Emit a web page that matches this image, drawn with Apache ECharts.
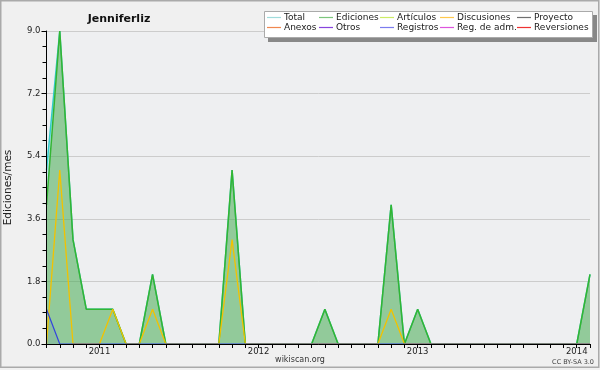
<!DOCTYPE html>
<html>
<head>
<meta charset="utf-8">
<script src="https://cdn.jsdelivr.net/npm/echarts@6/dist/echarts.min.js"></script>
<style>html,body{margin:0;padding:0;background:#f0f0f0;}#c{width:600px;height:370px;}</style>
</head>
<body>
<div id="c"></div>
<script>
var months = ['2010-09','2010-10','2010-11','2010-12','2011-01','2011-02','2011-03','2011-04','2011-05','2011-06','2011-07','2011-08','2011-09','2011-10','2011-11','2011-12','2012-01','2012-02','2012-03','2012-04','2012-05','2012-06','2012-07','2012-08','2012-09','2012-10','2012-11','2012-12','2013-01','2013-02','2013-03','2013-04','2013-05','2013-06','2013-07','2013-08','2013-09','2013-10','2013-11','2013-12','2014-01','2014-02'];
var total      = [5,9,3,1,1,1,0,0,2,0,0,0,0,0,5,0,0,0,0,0,0,1,0,0,0,0,4,0,1,0,0,0,0,0,0,0,0,0,0,0,0,2];
var ediciones  = [4,9,3,1,1,1,0,0,2,0,0,0,0,0,5,0,0,0,0,0,0,1,0,0,0,0,4,0,1,0,0,0,0,0,0,0,0,0,0,0,0,2];
var discusiones= [0,5,0,0,0,1,0,0,1,0,0,0,0,0,3,0,0,0,0,0,0,0,0,0,0,0,1,0,0,0,0,0,0,0,0,0,0,0,0,0,0,0];
var registros  = [1,0,0,0,0,0,0,0,0,0,0,0,0,0,0,0,0,0,0,0,0,0,0,0,0,0,0,0,0,0,0,0,0,0,0,0,0,0,0,0,0,0];
var articulos = [], proyecto = [], anexos = [], otros = [], regAdm = [], reversiones = [];
var yTicks = ['0.0','1.8','3.6','5.4','7.2','9.0'];

var legendCols = [
  {x:267, items:[['Total','#a0dcdc'],['Anexos','#f08850']]},
  {x:319, items:[['Ediciones','#7cc67c'],['Otros','#8844dd']]},
  {x:380, items:[['Artículos','#ccec66'],['Registros','#7c7cee']]},
  {x:440, items:[['Discusiones','#ffc94d'],['Reg. de adm.','#dd55dd']]},
  {x:517, items:[['Proyecto','#707070'],['Reversiones','#ee3333']]}
];
var FONT = 'DejaVu Sans';
var legends = legendCols.map(function(col){
  return {
    left: col.x, top: 13, orient: 'vertical', padding: 0, itemGap: 1,
    itemWidth: 14, itemHeight: 10, selectedMode: false, z: 20,
    icon: 'path://M0,0H15V1.3H0Z',
    textStyle: {fontFamily: FONT, fontSize: 9, color: '#1a1a1a', padding:[0,0,0,-2]},
    data: col.items.map(function(it){ return {name: it[0], itemStyle:{color: it[1]}, lineStyle:{color: it[1]}}; })
  };
});

function lineSeries(name, data, color, width, area, z){
  var s = {name: name, type: 'line', data: data, symbol: 'none', yAxisIndex: 0, z: z,
    lineStyle: {color: color, width: width}, itemStyle: {color: color}, animation: false};
  if (area) s.areaStyle = {color: area, opacity: 1};
  return s;
}

var chart = echarts.init(document.getElementById('c'), null, {renderer: 'canvas'});
chart.setOption({
  backgroundColor: '#f0f0f0',
  animation: false,
  title: {text: 'Jenniferliz', left: 114, top: 9, textAlign: 'center',
    textStyle: {fontFamily: FONT, fontSize: 11, fontWeight: 'bold', color: '#111'}},
  legend: legends,
  grid: {left: 46.5, right: 10, top: 31, bottom: 26, show: true, backgroundColor: '#eeeff1', borderWidth: 0,
    containLabel: false, outerBoundsMode: 'none'},
  xAxis: {
    type: 'category', data: months, boundaryGap: false, z: 5,
    axisLine: {lineStyle: {color: '#000', width: 1}},
    axisTick: {interval: 0, length: 4, lineStyle: {color: '#000'}},
    axisLabel: {interval: 0, hideOverlap: false,
      formatter: function(v){ return v.slice(5) === '01' ? v.slice(0,4) : ''; }, margin: 3,
      fontFamily: FONT, fontSize: 8.5, color: '#222'},
    splitLine: {show: false}
  },
  yAxis: [
    {type: 'value', min: 0, max: 9, interval: 1.8, z: 0, position: 'left',
      axisLine: {show: false}, axisTick: {show: false}, axisLabel: {show: false},
      splitLine: {show: true, lineStyle: {color: '#cccccc', width: 1}}},
    {type: 'value', min: 0, max: 9, interval: 1.8, z: 5, position: 'left', offset: 0,
      name: 'Ediciones/mes', nameLocation: 'middle', nameGap: 33, nameRotate: 90,
      nameTextStyle: {fontFamily: FONT, fontSize: 10.5, color: '#222'},
      axisLine: {show: true, onZero: false, lineStyle: {color: '#000', width: 1}},
      axisTick: {show: true, length: 5, lineStyle: {color: '#000'}},
      minorTick: {show: true, splitNumber: 4, length: 4, lineStyle: {color: '#000'}},
      axisLabel: {margin: 6, fontFamily: FONT, fontSize: 8.5, color: '#222',
        formatter: function(v){ return yTicks[Math.round(v/1.8)]; }},
      splitLine: {show: false}}
  ],
  series: [
    lineSeries('Total', total, '#33cccc', 1.5, 'rgba(51,204,204,0.25)', 2),
    lineSeries('Ediciones', ediciones, '#33b533', 1.5, 'rgba(80,160,40,0.4)', 3),
    lineSeries('Artículos', articulos, '#b8dd40', 1, null, 4),
    lineSeries('Discusiones', discusiones, '#f2c200', 1.3, null, 4),
    lineSeries('Proyecto', proyecto, '#555555', 1, null, 4),
    lineSeries('Anexos', anexos, '#ee7733', 1, null, 4),
    lineSeries('Otros', otros, '#7722cc', 1, null, 4),
    lineSeries('Registros', registros, '#3344dd', 1.2, 'rgba(51,68,221,0.08)', 4),
    lineSeries('Reg. de adm.', regAdm, '#cc33cc', 1, null, 4),
    lineSeries('Reversiones', reversiones, '#dd2222', 1, null, 4)
  ],
  graphic: [
    {type: 'rect', z: -10, silent: true, shape: {x: 0.75, y: 0.75, width: 598, height: 366.5},
      style: {fill: null, stroke: '#aaaaaa', lineWidth: 1.5}},
    {type: 'rect', z: 10, silent: true, shape: {x: 268, y: 15, width: 329, height: 27},
      style: {fill: '#888888'}},
    {type: 'rect', z: 11, silent: true, shape: {x: 264.5, y: 11.5, width: 328, height: 26},
      style: {fill: '#ffffff', stroke: '#aaaaaa', lineWidth: 1}},
    {type: 'text', z: 10, silent: true, left: 'center', top: 356,
      style: {text: 'wikiscan.org', font: '8px "DejaVu Sans"', fill: '#333'}},
    {type: 'text', z: 10, silent: true, right: 6, top: 359,
      style: {text: 'CC BY-SA 3.0', font: '6.5px "DejaVu Sans"', fill: '#444'}}
  ]
});
</script>
</body>
</html>
